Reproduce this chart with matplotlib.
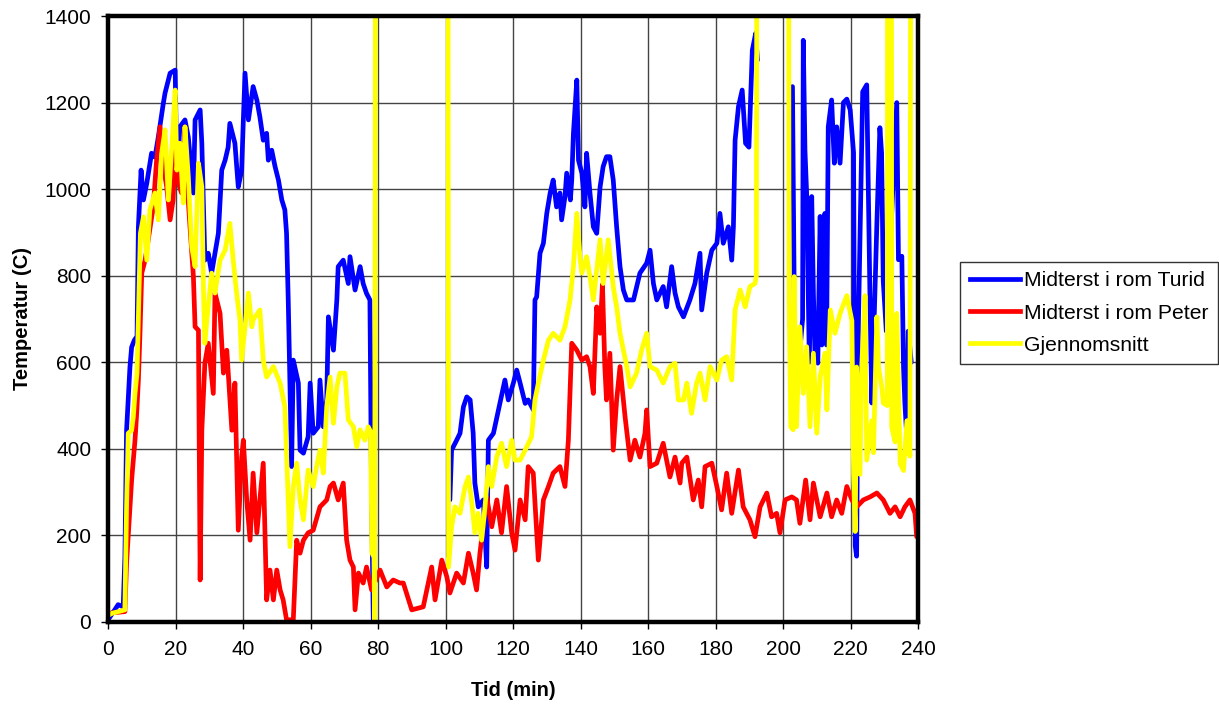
import numpy as np
import matplotlib
matplotlib.use("Agg")
import matplotlib.pyplot as plt
from matplotlib.lines import Line2D

plt.rcParams['font.family'] = ['Liberation Sans', 'DejaVu Sans']

nan = np.nan

# ---- data (time in min, temperature in C) ----
turid_t = [0, 2.0, 3.0, 4.5, 5.0, 5.5, 6.5, 7.0, 7.8, 8.6, 9.0, 9.8, 10.5, 11.5, 12.9, 13.9, 14.9,
           16.4, 16.9, 18.4, 19.9, 20.4, 21.3, 22.8, 23.8, 25.3, 25.8, 27.3, 27.8, 28.7, 29.7, 30.7,
           31.7, 32.7, 33.7, 34.7, 35.6, 36.1, 37.6, 38.6, 39.6, 40.1, 40.6, 41.6, 43.0, 44.1, 45.0,
           46.0, 47.0, 47.5, 48.5, 49.5, 50.5, 51.5, 52.4, 52.9, 53.4, 54.4, 54.9, 56.4, 56.9, 57.9,
           59.3, 59.9, 60.8, 62.3, 62.8, 63.8, 64.8, 65.3, 66.8, 67.8, 68.2, 69.7, 71.2, 71.7, 73.2,
           74.7, 75.6, 76.6, 77.6, 78.1, 78.6, 79.0,
           101.3, 101.8, 103.3, 104.3, 105.3, 106.3, 107.3, 108.2, 108.7, 109.7, 111.2, 112.2, 112.7,
           114.2, 116.1, 117.6, 118.6, 120.1, 121.1, 122.1, 123.6, 124.5, 126.0, 126.5, 127.0, 128.0,
           129.0, 130.0, 131.0, 131.9, 132.9, 133.9, 134.4, 135.4, 135.9, 137.0, 137.4, 137.9, 138.9,
           139.4, 140.4, 141.3, 141.8, 142.8, 143.8, 144.8, 145.8, 146.7, 147.7, 148.7, 149.7, 150.7,
           151.7, 152.7, 153.7, 155.7, 157.6, 159.6, 160.6, 161.6, 162.6, 164.5, 165.5, 167.0, 168.0,
           169.0, 170.5, 172.4, 173.9, 175.4, 175.9, 177.4, 178.9, 180.4, 181.3, 182.3, 183.8, 184.8,
           185.3, 185.8, 186.8, 187.9, 188.9, 189.9, 190.4, 190.9, 191.9, 192.4, 193.0,
           202.8, 203.4, 204.0, 205.0, 205.8, 206.0, 206.5, 207.0, 207.8, 208.5, 209.0, 209.5, 210.3,
           211.0, 211.5, 212.0, 212.4, 212.9, 213.4, 214.4, 215.2, 215.9, 216.9, 217.9, 218.9, 219.9,
           220.9, 221.4, 221.8, 222.3, 223.6, 224.8, 225.8, 226.3, 227.8, 228.7, 229.2, 229.7, 230.6,
           233.7, 234.2, 235.2, 235.7, 236.1, 236.7, 237.1, 238.0]
turid_c = [5, 28, 40, 35, 150, 443, 589, 635, 651, 660, 913, 1044, 975, 1014, 1083, 1074, 1120,
           1199, 1222, 1268, 1275, 1028, 1144, 1160, 1120, 991, 1160, 1183, 1106, 836, 852, 806,
           852, 898, 1044, 1067, 1097, 1152, 1106, 1005, 1044, 1160, 1268, 1160, 1237, 1206, 1167,
           1113, 1129, 1067, 1090, 1052, 1021, 975, 952, 898, 744, 359, 605, 552, 397, 390,
           428, 552, 436, 451, 559, 451, 513, 705, 628, 744, 821, 836, 782, 844, 767,
           821, 782, 759, 744, 282, 5, nan,
           282, 397, 420, 436, 497, 520, 513, 436, 321, 266, 282, 127, 420,
           436, 505, 559, 513, 552, 582, 552, 505, 513, 490, 744, 751, 852,
           875, 944, 991, 1021, 959, 991, 929, 983, 1037, 975, 1021, 1129, 1252,
           1067, 1037, 959, 1083, 991, 913, 898, 1005, 1052, 1075, 1075, 1021, 913,
           821, 767, 744, 744, 806, 829, 859, 782, 744, 775, 728, 821, 760,
           728, 705, 744, 782, 852, 721, 806, 859, 875, 944, 875, 913, 836,
           913, 1113, 1191, 1229, 1106, 1097, 1206, 1321, 1360, 1298, nan,
           1237, 683, 620, 628, 700, 1344, 1090, 990, 600, 983, 760, 605, 598,
           937, 640, 667, 944, 640, 1144, 1206, 1060, 1144, 1060, 1200, 1208, 1183,
           1084, 176, 152, 672, 1225, 1241, 730, 506, 919, 1142, 1084, 787, 672,
           1200, 837, 845, 589, 506, 424, 672, 600]

peter_t = [0, 5.0, 5.5, 6.5, 7.0, 8.0, 8.5, 9.0, 9.5, 10.0, 11.0, 11.9, 13.4, 14.4, 15.4, 16.4,
           17.4, 18.4, 19.3, 19.9, 20.8, 21.8, 22.8, 23.3, 24.3, 25.3, 25.8, 26.8, 27.3, 27.8, 28.7,
           29.7, 31.2, 31.7, 33.2, 34.2, 35.2, 36.7, 37.6, 38.6, 39.6, 40.1, 41.1, 42.1, 43.0, 44.1,
           46.0, 47.0, 48.0, 49.0, 50.0, 51.0, 51.9, 52.9, 54.9, 55.9, 56.9, 57.9, 59.3, 60.8, 62.8,
           64.8, 65.8, 66.8, 68.2, 69.7, 70.7, 71.7, 72.7, 73.2, 74.2, 75.6, 76.6, 78.1, 80.6, 82.6,
           84.5, 86.5, 87.5, 90.0, 93.4, 95.9, 96.9, 98.9, 100.4, 101.3, 103.3, 105.3, 106.8, 108.2,
           109.2, 110.2, 112.2, 113.7, 115.2, 116.6, 118.1, 119.6, 120.6, 122.1, 123.6, 124.5, 126.0,
           127.5, 129.0, 130.5, 131.9, 133.9, 135.4, 136.4, 137.4, 138.9, 140.4, 141.8, 142.8, 143.8,
           144.8, 145.8, 146.5, 147.2, 147.7, 148.7, 149.7, 150.7, 151.7, 153.2, 154.7, 156.1, 157.6,
           159.1, 159.6, 160.6, 162.6, 164.5, 166.5, 168.0, 169.5, 170.0, 171.5, 173.4, 174.9, 175.9,
           176.9, 178.9, 180.4, 181.8, 183.3, 184.8, 186.8, 188.2, 190.2, 191.7, 193.2, 195.2, 196.6,
           198.1, 199.1, 200.6, 202.6, 204.0, 205.0, 206.7, 208.0, 209.0, 211.0, 213.0, 214.4, 215.9,
           217.4, 218.9, 220.4, 221.8, 223.8, 225.8, 227.8, 229.7, 231.7, 233.2, 234.7, 236.1, 237.6,
           239.1, 239.6, 240]
peter_c = [20, 24, 136, 266, 328, 420, 482, 559, 674, 806, 836, 882, 959, 1067, 1144, 1052,
           1005, 929, 975, 1106, 1014, 991, 1144, 1028, 913, 798, 682, 674, 97, 443, 598,
           644, 528, 760, 713, 575, 628, 443, 552, 212, 381, 420, 282, 189, 344, 206,
           367, 51, 120, 51, 120, 74, 51, 5, 5, 189, 159, 189, 206, 212, 266,
           282, 313, 321, 282, 321, 189, 143, 127, 28, 113, 90, 127, 74, 120, 81,
           97, 90, 90, 28, 35, 127, 51, 143, 104, 67, 113, 90, 159, 113,
           74, 159, 289, 220, 282, 206, 313, 206, 166, 282, 236, 359, 344,
           143, 282, 313, 344, 359, 313, 420, 644, 628, 605, 613, 590, 528,
           728, 667, 780, 590, 513, 621, 397, 513, 590, 474, 374, 420, 381,
           436, 490, 359, 367, 413, 335, 381, 321, 367, 381, 282, 328, 266,
           359, 367, 313, 259, 344, 251, 351, 266, 236, 197, 266, 298, 243,
           251, 206, 282, 289, 282, 228, 328, 236, 321, 243, 298, 243, 282,
           251, 313, 282, 266, 282, 289, 298, 282, 251, 266, 243, 266, 282,
           251, 197, 197]

snitt_t = [0, 1.2, 5.0, 5.5, 6.0, 7.0, 7.5, 8.0, 8.6, 9.2, 9.6, 10.5, 11.5, 12.4, 13.9, 14.9, 15.9,
           16.9, 17.9, 18.9, 19.9, 20.4, 21.3, 22.3, 22.8, 23.8, 24.8, 25.8, 26.8, 27.8, 28.3, 28.7,
           29.3, 30.7, 31.7, 33.2, 34.7, 36.1, 37.1, 38.1, 39.1, 39.6, 40.6, 41.6, 42.6, 43.0, 45.0,
           46.0, 47.0, 49.0, 51.0, 52.4, 53.4, 53.9, 54.9, 55.9, 56.9, 57.9, 59.3, 60.8, 61.8, 62.8,
           63.8, 64.8, 65.8, 66.8, 67.8, 68.7, 70.2, 71.2, 72.7, 73.7, 74.7, 76.1, 77.1, 77.8, 78.2,
           78.8, 79.0, 79.3, 100.7, 100.9, 101.8, 102.8, 104.3, 105.8, 106.8, 107.7, 108.7, 109.7,
           110.7, 111.7, 112.7, 113.7, 115.2, 116.6, 118.1, 119.6, 120.6, 122.1, 123.6, 125.5, 126.5,
           127.5, 129.0, 130.5, 131.9, 133.9, 135.4, 136.9, 137.9, 138.9, 139.9, 140.4, 141.8, 142.8,
           143.8, 145.8, 146.7, 148.2, 149.7, 150.7, 151.7, 153.7, 154.7, 156.6, 158.1, 159.6, 160.6,
           162.6, 164.5, 166.5, 168.0, 169.0, 170.5, 171.5, 172.9, 174.4, 175.4, 176.9, 178.4, 180.4,
           181.8, 183.3, 184.8, 185.8, 187.3, 188.8, 190.2, 191.7, 192.1, 192.3, 201.6, 201.8, 202.3,
           203.0, 203.3, 204.0, 205.0, 206.0, 207.0, 208.0, 209.0, 210.0, 211.0, 212.4, 213.0, 214.0,
           215.4, 216.9, 218.9, 220.4, 220.9, 221.4, 221.8, 222.8, 223.3, 224.3, 224.8, 226.3, 226.8,
           227.8, 228.3, 229.3, 229.7, 230.9, 231.0, 232.1, 232.2, 233.2, 233.7, 234.2, 234.7, 235.7,
           236.7, 237.6, 237.9, 240]
snitt_c = [15, 20, 28, 266, 436, 443, 474, 528, 575, 774, 898, 936, 836, 952, 991, 929, 1083,
           1137, 975, 1098, 1229, 1044, 1106, 968, 1144, 1028, 867, 821, 1060, 1005, 760, 644,
           698, 806, 760, 836, 859, 921, 836, 760, 698, 605, 682, 760, 682, 698, 721,
           605, 566, 590, 552, 497, 282, 174, 313, 367, 282, 236, 351, 313, 359, 397,
           344, 497, 566, 459, 543, 575, 575, 467, 451, 405, 444, 420, 451, 440, 159,
           150, 0, 2000, 2000, 127, 220, 266, 251, 313, 335, 282, 206, 251,
           189, 266, 359, 313, 382, 413, 359, 420, 374, 374, 397, 428, 513,
           552, 605, 651, 667, 651, 682, 744, 821, 944, 836, 806, 844, 798,
           744, 883, 782, 883, 775, 728, 667, 590, 543, 575, 628, 667, 590,
           582, 552, 590, 598, 513, 513, 552, 482, 552, 575, 513, 590, 559,
           605, 613, 559, 721, 767, 728, 775, 782, 800, 2000, 2000, 744, 451,
           444, 798, 451, 682, 528, 636, 451, 621, 436, 566, 621, 490, 721,
           667, 713, 754, 696, 341, 209, 589, 341, 589, 754, 374, 465, 391,
           705, 589, 540, 506, 500, 2000, 2000, 450, 416, 713, 548, 366, 350,
           465, 383, 2000, 2000]

series_names = ["Midterst i rom Turid", "Midterst i rom Peter", "Gjennomsnitt"]
series_colors = ["#0000ff", "#ff0000", "#ffff00"]

x_ticks = list(range(0, 241, 20))
y_ticks = list(range(0, 1401, 200))

# ---- figure ----
fig = plt.figure(figsize=(12.19, 7.06), dpi=100)
ax = fig.add_axes([0.0886, 0.119, 0.6645, 0.8583])

lw = 3.4
for t, c, col in [(turid_t, turid_c, series_colors[0]),
                  (peter_t, peter_c, series_colors[1]),
                  (snitt_t, snitt_c, series_colors[2])]:
    ax.plot(t, c, color=col, lw=lw, solid_joinstyle='round', solid_capstyle='round')

ax.set_xlim(0, 240)
ax.set_ylim(0, 1400)
ax.set_xticks(x_ticks)
ax.set_yticks(y_ticks)
ax.grid(True, color='#444444', lw=1.0, zorder=0)
ax.set_axisbelow(True)

for s in ax.spines.values():
    s.set_linewidth(3.2)
    s.set_color('black')

ax.tick_params(axis='both', direction='out', length=5, width=1, labelsize=15, colors='black')
ax.tick_params(axis='x', pad=8)
ax.tick_params(axis='y', pad=7)

fig.text(22 / 1219, 1 - 319 / 706, "Temperatur (C)", rotation=90, ha='center', va='center',
         fontsize=14.5, fontweight='bold')
fig.text(513 / 1219, 1 - 690 / 706, "Tid (min)", ha='center', va='center',
         fontsize=14.5, fontweight='bold')

handles = [Line2D([0], [0], color=c, lw=3.4) for c in series_colors]
leg = fig.legend(handles, series_names, loc='upper left',
                 bbox_to_anchor=(960 / 1219, 1 - 262 / 706), fontsize=15.2,
                 frameon=True, fancybox=False, handlelength=2.4, handletextpad=0.2,
                 labelspacing=0.62, borderpad=0.45, borderaxespad=0)
leg.get_frame().set_edgecolor('black')
leg.get_frame().set_linewidth(1.0)

fig.savefig("out.png", dpi=100, facecolor='white')
